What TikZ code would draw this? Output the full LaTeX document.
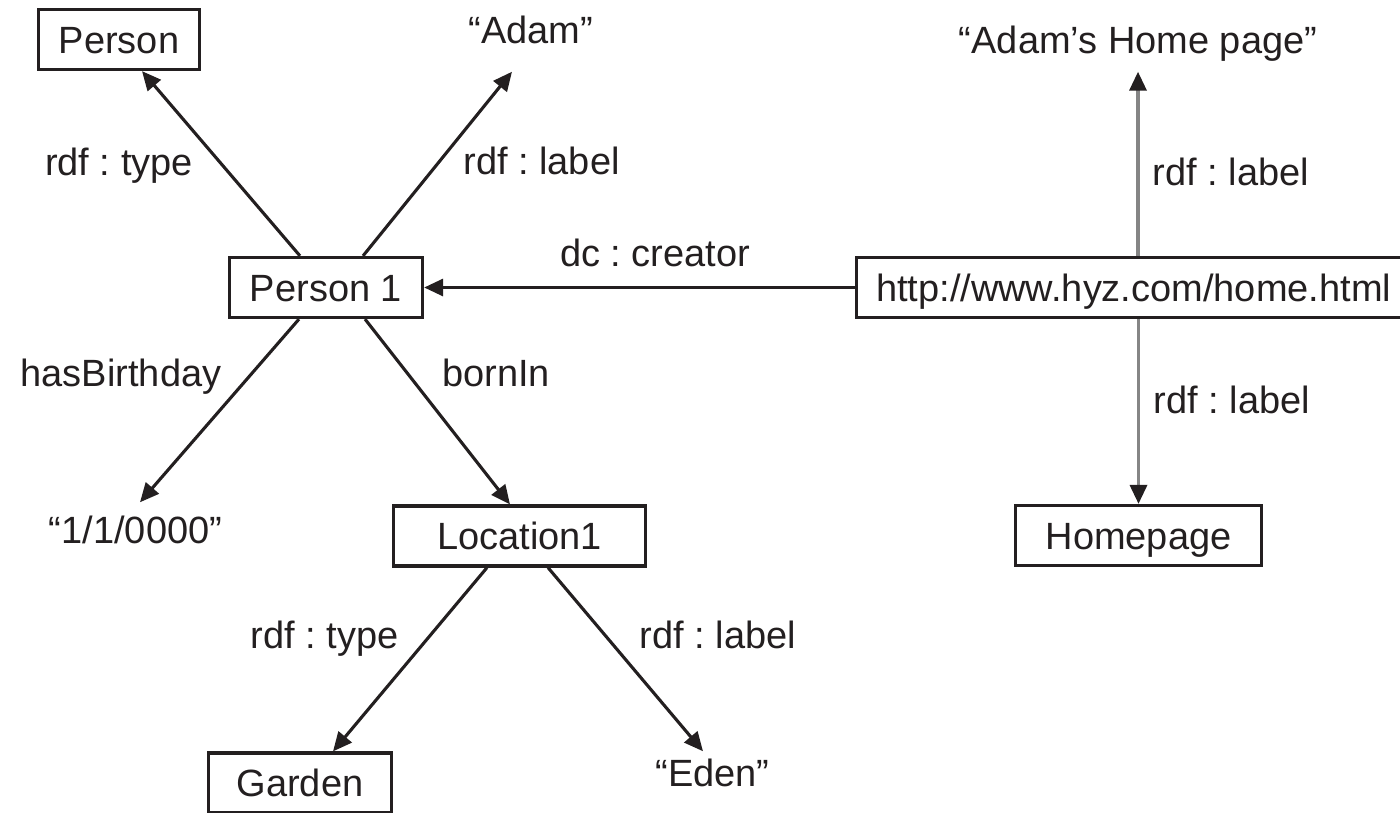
\documentclass[tikz,border=0pt]{standalone}
\usepackage{fontspec}
\setmainfont{Liberation Sans}
\usetikzlibrary{arrows.meta}
\definecolor{ink}{HTML}{231F20}
\definecolor{linkgrey}{HTML}{858585}
\frenchspacing
\begin{document}
\begin{tikzpicture}[x=0.01cm,y=-0.01cm,
  font=\fontsize{10.8}{13}\selectfont,
  every node/.style={text=ink},
  box/.style={draw=ink,line width=0.032cm,inner sep=0pt,text height=0.27cm,
              text depth=0pt,minimum height=0.60cm},
  lit/.style={anchor=base,inner sep=0pt,text height=0.27cm,text depth=0pt},
  rel/.style={anchor=base,inner sep=0pt},
  link/.style={draw=ink,line width=0.031cm,
               -{Triangle[length=0.19cm,width=0.17cm,color=ink]}},
  greylink/.style={link,draw=linkgrey,line width=0.034cm}]
\useasboundingbox (0,0) rectangle (1400,812);
\clip (0,0) rectangle (1400,812);

% resources and literals
\node[box,minimum width=1.61cm] (person) at (119,39.5) {Person};
\node[box,minimum width=1.93cm] (p1) at (326,287.5) {Person 1};
\node[box,anchor=west,inner xsep=0.20cm] (http) at (854.5,287.5) {http://www.hyz.com/home.html};
\node[box,minimum width=2.52cm] (loc) at (519.5,536) {Location1};
\node[box,minimum width=2.46cm] (hp) at (1138.5,535.5) {Homepage};
\node[box,minimum width=1.83cm] (garden) at (300,783) {Garden};

\node[lit] (adam) at (531,44) {“Adam”};
\node[lit] (ahp) at (1138,53) {“Adam's Home page”};
\node[lit] (bday) at (135.5,543) {“1/1/0000”};
\node[lit] (eden) at (712.5,786) {“Eden”};

% property labels
\node[rel] (ltype1) at (119,175) {rdf : type};
\node[rel] (llabel1) at (541.5,174) {rdf : label};
\node[rel] (lcreator) at (655,266) {dc : creator};
\node[rel] (llabel2) at (1231,185) {rdf : label};
\node[rel] (llabel3) at (1232,413) {rdf : label};
\node[rel] (lbirth) at (121,386) {hasBirthday};
\node[rel] (lborn) at (496,386) {bornIn};
\node[rel] (ltype2) at (324.5,648) {rdf : type};
\node[rel] (llabel4) at (718,648) {rdf : label};

% properties
\draw[link] ([xshift=-0.26cm]p1.north) -- ([xshift=0.23cm]person.south);
\draw[link] ([xshift=0.37cm]p1.north) -- ([xshift=-0.19cm,yshift=-0.27cm]adam.south);
\draw[link] (http.west) -- (p1.east);
\draw[greylink] (http.north -| ahp.south) -- ([yshift=-0.18cm]ahp.south);
\draw[greylink] (http.south -| hp.north) -- (hp.north);
\draw[link] ([xshift=-0.27cm]p1.south) -- ([xshift=0.045cm,yshift=0.13cm]bday.north);
\draw[link] ([xshift=0.39cm]p1.south) -- ([xshift=-0.095cm]loc.north);
\draw[link] ([xshift=-0.325cm]loc.south) -- ([xshift=0.33cm]garden.north);
\draw[link] ([xshift=0.285cm]loc.south) -- ([xshift=-0.095cm,yshift=0.07cm]eden.north);
\end{tikzpicture}
\end{document}
